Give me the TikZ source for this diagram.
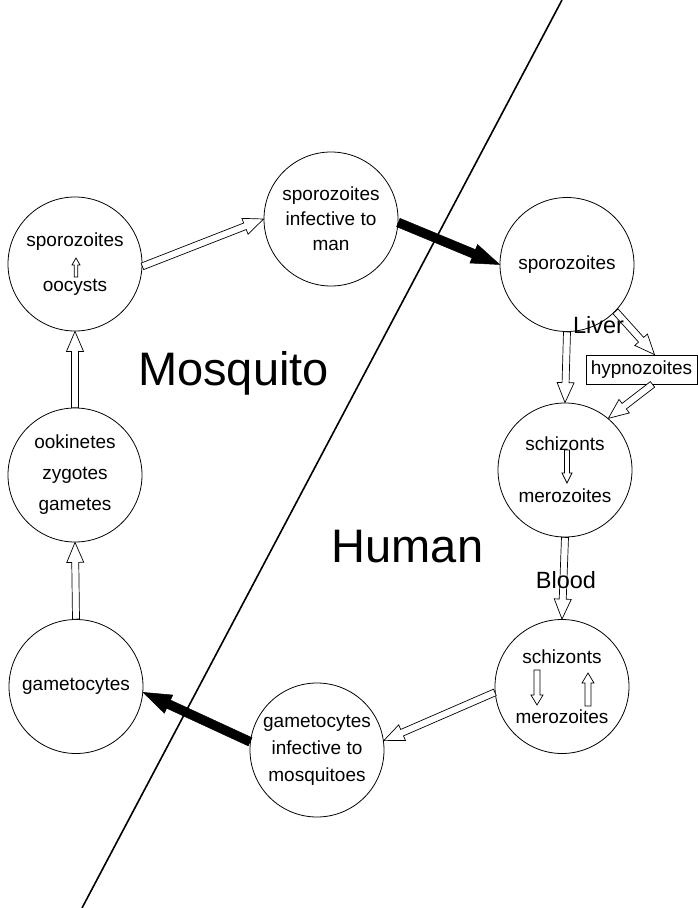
\documentclass[tikz,border=0pt]{standalone}
\usepackage{fontspec}
\setmainfont{Liberation Sans}
\usetikzlibrary{calc}
\newcommand{\shapedarrow}[6]{%
  \coordinate (AS) at #2;
  \coordinate (AE) at #3;
  \coordinate (AH) at ($(AE)!#6!(AS)$);
  \path[#1] ($(AS)!#4!90:(AE)$) -- ($(AH)!#4!90:(AE)$) -- ($(AH)!#5!90:(AE)$) -- (AE)
    -- ($(AH)!#5!-90:(AE)$) -- ($(AH)!#4!-90:(AE)$) -- ($(AS)!#4!-90:(AE)$) -- cycle;
}
\begin{document}
\begin{tikzpicture}[x=1pt,y=-1pt,
  circ/.style={circle,draw,line width=0.8pt,minimum size=134pt,inner sep=0pt,align=center,font=\fontsize{19}{25}\selectfont},
  hollow/.style={draw=black,fill=white,line width=0.7pt,line join=miter},
  blackarrow/.style={draw=black,fill=black,line width=0.5pt,line join=miter},
  big/.style={font=\fontsize{47}{50}\selectfont},
  region/.style={font=\fontsize{23.5}{26}\selectfont},
  divider/.style={line width=1.6pt}]
\useasboundingbox (0,0) rectangle (698,908);
% dividing line
\coordinate (ltop) at (562,0);
\coordinate (lbot) at (82,908);
\draw[divider] (ltop) -- (lbot);
% circles
\node[circ] (oo) at (75,264) {sporozoites\\[20pt]oocysts};
\node[circ] (inf) at (331,219) {sporozoites\\infective to\\man};
\node[circ] (spz) at (567,264.5) {sporozoites};
\node[circ] (liv) at (565,470) {schizonts\\[27pt]merozoites};
\node[circ] (bl) at (562,686.5) {schizonts\\[35pt]merozoites};
\node[circ] (gim) at (317,750) {gametocytes\\[2pt]infective to\\[2pt]mosquitoes};
\node[circ] (gam) at (76,686.5) {gametocytes};
\node[circ] (ook) at (75,475) {ookinetes\\[6pt]zygotes\\[6pt]gametes};
\node[draw,line width=0.8pt,minimum width=111pt,minimum height=29pt,inner sep=0pt,font=\fontsize{19}{22}\selectfont] (hyp) at (641.5,369.5) {hypnozoites};
% connectors
\shapedarrow{hollow}{(oo.-2)}{(inf.180)}{3.5pt}{8.5pt}{20pt}
\shapedarrow{blackarrow}{(inf.-3)}{(spz.180)}{4.5pt}{10pt}{28pt}
\shapedarrow{hollow}{(spz.south)}{(liv.north)}{3.5pt}{8.5pt}{20pt}
\shapedarrow{hollow}{(spz.-44)}{([xshift=13pt]hyp.north)}{3.5pt}{8.5pt}{20pt}
\shapedarrow{hollow}{([xshift=11pt]hyp.south)}{(liv.50)}{3.5pt}{8.5pt}{20pt}
\shapedarrow{hollow}{(liv.south)}{(bl.north)}{3.5pt}{8.5pt}{20pt}
\shapedarrow{hollow}{(bl.185)}{(gim.8)}{3.5pt}{8.5pt}{20pt}
\shapedarrow{blackarrow}{(gim.173)}{(gam.-5)}{4.5pt}{10pt}{28pt}
\shapedarrow{hollow}{(gam.north)}{(ook.south)}{3.5pt}{8.5pt}{20pt}
\shapedarrow{hollow}{(ook.north)}{(oo.south)}{3.5pt}{8.5pt}{20pt}
% small arrows inside circles
\shapedarrow{hollow}{(76,277)}{(76,258)}{1.8pt}{4pt}{7pt}
\shapedarrow{hollow}{(567,450)}{(567,483)}{2.5pt}{5pt}{10pt}
\shapedarrow{hollow}{(537,670)}{(537,705)}{3pt}{6pt}{10pt}
\shapedarrow{hollow}{(588,706)}{(588,673)}{3pt}{6pt}{10pt}
% labels
\node[region,anchor=base] (liverlbl) at (598.5,333) {Liver};
\node[region,anchor=base] (bloodlbl) at (566,588) {Blood};
\node[big,anchor=base] (mos) at (233.5,385) {Mosquito};
\node[big,anchor=base] (hum) at (407.5,562) {Human};
\end{tikzpicture}
\end{document}
